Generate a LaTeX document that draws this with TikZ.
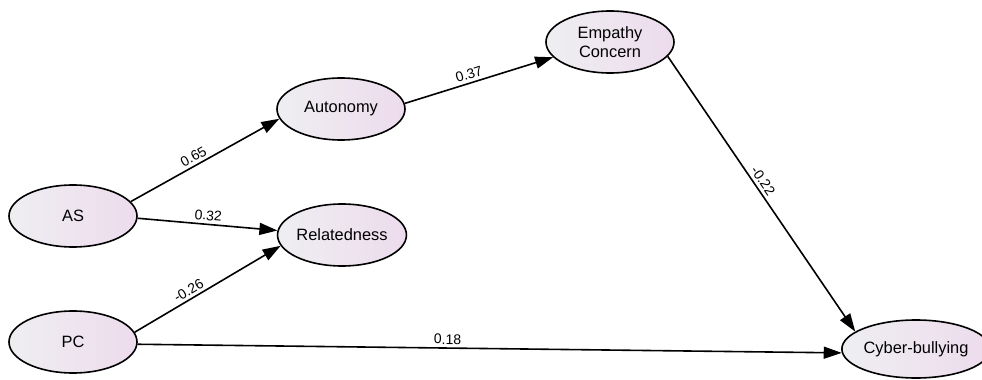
\documentclass[tikz,border=0pt]{standalone}
\usepackage{fontspec}
\setmainfont{Liberation Sans}
\usetikzlibrary{arrows.meta,shapes.geometric}

\begin{document}
\begin{tikzpicture}[x=0.5pt,y=-0.5pt,
    latent/.style={ellipse,draw,thick,minimum width=64pt,minimum height=31pt,
      inner sep=0pt,left color=blue!8!gray!12,right color=violet!14,
      font=\fontsize{8.2}{9.5}\selectfont,align=center},
    path/.style={-{Triangle[length=9pt,width=6pt]},thick},
    coef/.style={font=\fontsize{7}{8}\selectfont,sloped,above,inner sep=1.5pt}]
      \useasboundingbox (0,0) rectangle (982,380);

      % exogenous
      \node[latent] (as) at (73,216) {AS};
      \node[latent] (pc) at (73,342) {PC};

      % mediators
      \node[latent] (aut) at (341,109) {Autonomy};
      \node[latent] (rel) at (342,235) {Relatedness};
      \node[latent,minimum width=64pt,minimum height=31pt] (emp) at (610,42) {Empathy\\Concern};

      % outcome
      \node[latent,minimum width=63pt,minimum height=29pt] (cyb) at (916,349) {Cyber-bullying};

      \draw[path] (as.14) -- node[coef,pos=.45] {0.65} (aut.189.5);
      \draw[path] (as.-2) -- node[coef,pos=.5] {0.32} (rel.176.5);
      \draw[path] (pc.9) -- node[coef,pos=.4] {-0.26} (rel.190);
      \draw[path] (aut.5) -- node[coef,pos=.45] {0.37} (emp.195);
      \draw[path] (emp.-14.5) -- node[coef,pos=.47] {-0.22} (cyb.164);
      \draw[path] (pc.-2) -- node[coef,pos=.44] {0.18} (cyb.183);
    \end{tikzpicture}
\end{document}
